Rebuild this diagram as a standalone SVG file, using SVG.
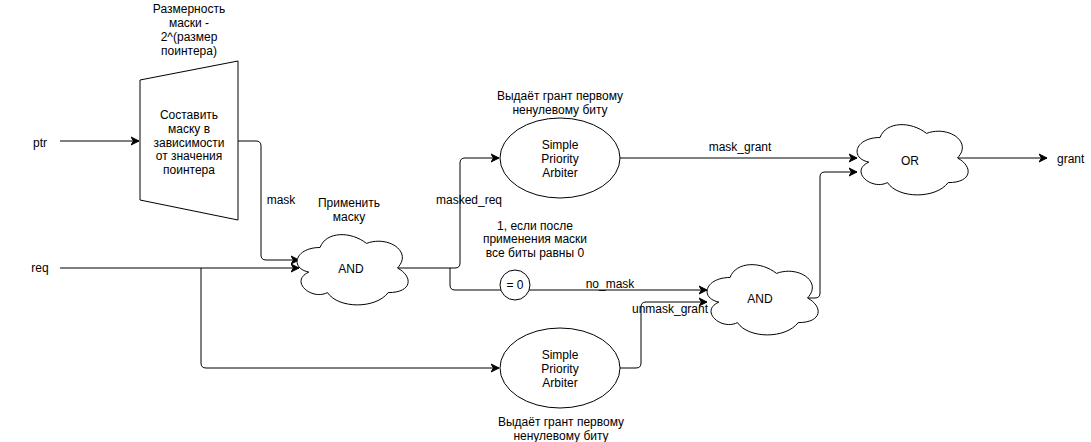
<svg xmlns="http://www.w3.org/2000/svg" width="1091" height="442" viewBox="0 0 1091 442">
<style>
  .shape { fill: #ffffff; stroke: #000000; stroke-width: 1; }
  .edge { fill: none; stroke: #000000; stroke-width: 1; marker-end: url(#arrow); }
  .edge-plain { fill: none; stroke: #000000; stroke-width: 1; }
  text { font-family: "Liberation Sans", Arial, Helvetica, sans-serif; font-size: 12px; fill: #000000; text-anchor: middle; }
  .start { text-anchor: start; }
</style>
<defs>
  <marker id="arrow" markerUnits="userSpaceOnUse" markerWidth="10" markerHeight="10" refX="8" refY="5" orient="auto" viewBox="0 0 10 10">
    <path d="M 0 1 L 8 5 L 0 9 L 2.5 5 Z" fill="#000000" stroke="#000000" stroke-width="1"/>
  </marker>
  <path id="cloud" d="M 31 20.5 C 6.2 20.5 0 41 19.84 45.1 C 0 54.12 22.32 73.8 38.44 65.6 C 49.6 82 86.8 82 99.2 65.6 C 124 65.6 124 49.2 108.5 41 C 124 24.6 99.2 8.2 77.5 16.4 C 62 4.1 37.2 4.1 31 20.5 Z"/>
</defs>

<g id="connectors">
  <path class="edge" d="M 60 141 H 139"/>
  <path class="edge" d="M 238 141 H 256 Q 261 141 261 146 V 255 Q 261 260 266 260 H 299"/>
  <path class="edge" d="M 60 268 H 299"/>
  <path class="edge" d="M 201 268 V 363 Q 201 368 206 368 H 499"/>
  <path class="edge" d="M 397 268 H 455 Q 460 268 460 263 V 163 Q 460 158 465 158 H 499"/>
  <path class="edge" d="M 450 268 V 285 Q 450 290 455 290 H 707"/>
  <path class="edge" d="M 620 158 H 857"/>
  <path class="edge" d="M 620 368 H 636 Q 641 368 641 363 V 307 Q 641 302 646 302 H 707"/>
  <path class="edge" d="M 807 298 H 815 Q 820 298 820 293 V 177 Q 820 172 825 172 H 857"/>
  <path class="edge" d="M 958 158 H 1047"/>
  <text x="281" y="204">mask</text>
  <text x="469" y="204">masked_req</text>
  <text x="610" y="288">no_mask</text>
  <text x="740" y="151">mask_grant</text>
  <text x="670" y="313">unmask_grant</text>
</g>

<g id="ptr-label"><text x="40" y="147">ptr</text></g>
<g id="req-label"><text x="40" y="272">req</text></g>
<g id="grant-label"><text class="start" x="1057" y="163">grant</text></g>

<g id="mask-builder">
  <polygon class="shape" points="140,80 238,61 238,220 140,200"/>
  <text x="189" y="119">Составить</text>
  <text x="189" y="133">маску в</text>
  <text x="189" y="147">зависимости</text>
  <text x="189" y="160">от значения</text>
  <text x="189" y="174">поинтера</text>
</g>
<g id="mask-size-note">
  <text x="189" y="13">Размерность</text>
  <text x="189" y="27">маски -</text>
  <text x="189" y="41">2^(размер</text>
  <text x="189" y="55">поинтера)</text>
</g>

<g id="and1">
  <use href="#cloud" class="shape" transform="translate(289,227)"/>
  <text x="351" y="273">AND</text>
</g>
<g id="and1-note">
  <text x="349" y="207">Применить</text>
  <text x="349" y="221">маску</text>
</g>

<g id="arbiter1">
  <ellipse class="shape" cx="560" cy="158" rx="60" ry="40"/>
  <text x="560" y="149">Simple</text>
  <text x="560" y="163">Priority</text>
  <text x="560" y="177">Arbiter</text>
</g>
<g id="arbiter1-note">
  <text x="560" y="100">Выдаёт грант первому</text>
  <text x="560" y="114">ненулевому биту</text>
</g>

<g id="zero-check-note">
  <text x="535" y="230">1, если после</text>
  <text x="535" y="243">применения маски</text>
  <text x="535" y="257">все биты равны 0</text>
</g>
<g id="zero-check">
  <circle class="shape" cx="515" cy="285" r="15"/>
  <text x="515" y="289">= 0</text>
</g>

<g id="arbiter2">
  <ellipse class="shape" cx="560" cy="368" rx="60" ry="40"/>
  <text x="560" y="359">Simple</text>
  <text x="560" y="373">Priority</text>
  <text x="560" y="387">Arbiter</text>
</g>
<g id="arbiter2-note">
  <text x="561" y="426">Выдаёт грант первому</text>
  <text x="561" y="440">ненулевому биту</text>
</g>

<g id="and2">
  <use href="#cloud" class="shape" transform="translate(699,257)"/>
  <text x="760" y="303">AND</text>
</g>

<g id="or">
  <use href="#cloud" class="shape" transform="translate(849,117)"/>
  <text x="910" y="165">OR</text>
</g>
</svg>
